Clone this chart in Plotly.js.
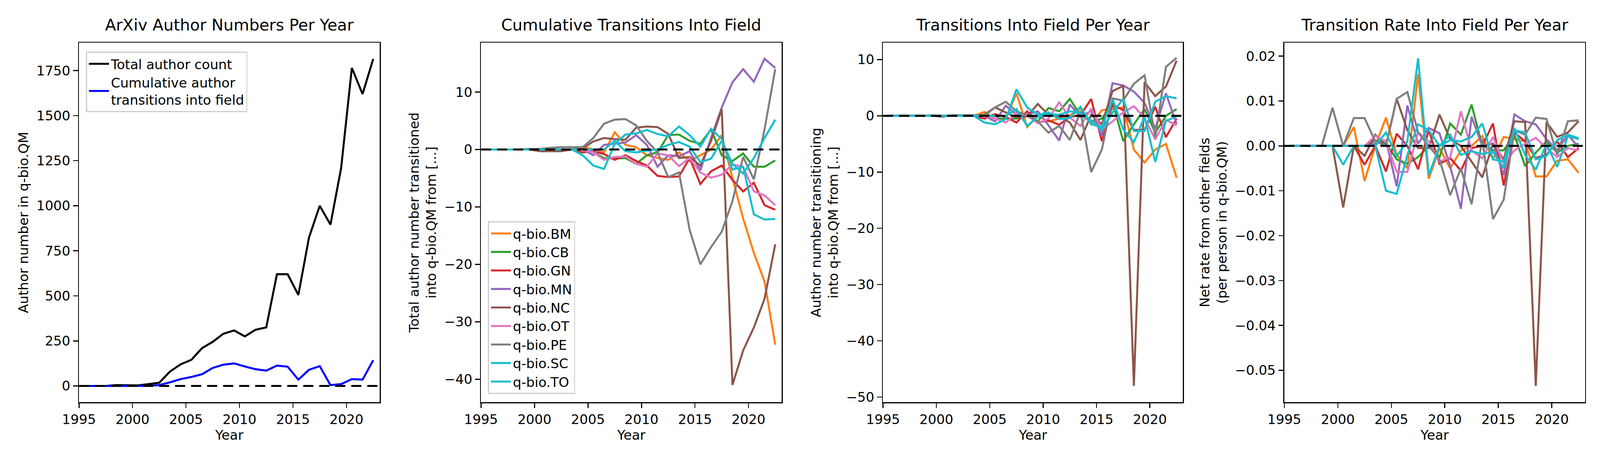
<!DOCTYPE html>
<html>
<head>
<meta charset="utf-8">
<script src="https://cdn.plot.ly/plotly-3.0.1.min.js"></script>
<style>html,body{margin:0;padding:0;overflow:hidden;background:#fff}</style>
</head>
<body>
<div id="plot"></div>
<script>
var years = [];
for (var y = 1995; y <= 2022; y++) years.push(y + 0.5);

var totalAuthors = [0,0,0,5,5,3,10,18, 80,120,145,210,245,290,308,275,312,325,620,620,505,825,1000,895,1210,1765,1620,1815];
var cumTransitions = [0,0,0,0,0,0,0,5, 20,38,50,65,100,118,125,108,93,85,113,107,35,90,110,5,10,38,35,143];

var fields = ['q-bio.BM','q-bio.CB','q-bio.GN','q-bio.MN','q-bio.NC','q-bio.OT','q-bio.PE','q-bio.SC','q-bio.TO'];
var colors = ['#ff7f0e','#2ca02c','#d62728','#9467bd','#8c564b','#e377c2','#7f7f7f','#17becf','#17becf'];

var z8 = [0,0,0,0,0,0,0,0];
// cumulative transitions, 1995.5 .. 2022.5
var cumBM = z8.concat([0,0.5,0,-0.5,3,0.8,0.4,-1,-1.5,-1.8,-0.5,-2,-1,0,2.5,-5,-12,-18,-23,-34]);
var cumCB = z8.concat([0,0,-0.5,-1.5,-1.6,-1.5,-2.5,-1,-0.5,2.5,2.6,1.5,1,3.5,-1,-2,-0.7,-3,-3,-1.9]);
var cumGN = z8.concat([0,-0.5,-0.3,-0.8,-1.8,-1,-2,-2.8,-4.6,-4.8,-4.7,-1.5,-6,-3.8,-2.8,-5.3,-7.3,-5.8,-9.7,-10.5]);
var cumMN = z8.concat([0,0,-1,0.8,1,1.2,2.5,0.8,-3,-1,-1.2,-0.3,-3.6,2,7.3,11.7,14,11.8,15.8,14.2]);
var cumNC = [0,0,0,0,0,-0.3,-0.3,-0.3, 0,0.2,1.4,2,1.8,1.7,3.8,4,3.9,2.7,-1.5,-1.3,-2.8,1.5,7,-41,-35,-31,-26,-16.5];
var cumOT = z8.concat([0,0,-0.5,-1.8,-1.3,-1.2,-2.5,-3,-0.7,-1,-2.9,-1.5,-4,-4.9,-4.4,-2.6,-3,-7.3,-8,-9.7]);
var cumPE = [0,0,0,0,0.1,0.1,0.3,0.4, 0.4,0.4,2,4.5,5.2,5.3,4.2,1.5,-0.5,-4.8,-4,-14,-20,-17,-14.3,-9,-1.3,-5.2,3.5,14];
var cumSC = z8.concat([0,-1,-2.8,-3.4,1,2.6,2.8,3.4,2.7,2.3,4,2.5,0.5,3.6,1.8,-3.5,-3,-11.3,-12.2,-12.1]);
var cumTO = z8.concat([0,0,0,0,1.5,-0.3,-0.5,-0.2,0,0.8,1.3,0.5,-2.2,-1.6,1.5,-2.5,-4.2,-1.5,2,5.2]);

// transitions per year, 1995.5 .. 2022.5
var yrBM = z8.concat([0,0.7,-0.5,-0.5,4,-2,0,-1,-0.5,0,1.3,-1.5,1,1.2,1.5,-6,-8.3,-6,-5,-11]);
var yrCB = z8.concat([0,0,-0.5,-0.5,-0.5,0,-1,1.4,0.8,3,0.1,-1,-0.5,2.5,-4.5,-1.5,1.2,-3,0,1.2]);
var yrGN = z8.concat([0,-0.5,0.3,-0.2,-1.2,0.8,-1.2,-0.8,-1.6,-0.2,0.1,3,-4.5,2,1,-2.5,-2.5,1.6,-3.8,-0.5]);
var yrMN = z8.concat([0,0,-1,1.8,0.2,0.2,0.8,-1.7,-4.4,2,-0.2,0.9,-3.5,5.8,5.4,4.3,2.3,-2.3,4,-1.5]);
var yrNC = z8.concat([0,0.2,1.5,0.6,-0.3,-0.1,2.1,0.2,-0.1,-1.2,-4.3,0.2,-1.5,4.4,5.3,-48,6,3.5,5.2,9.8]);
var yrOT = z8.concat([0,0,-0.5,-1.2,0.5,0.1,-1.3,-0.5,2.4,-0.3,-1.8,1.3,-2.4,-1,0.6,1.7,-0.4,-4.2,-0.7,-1.7]);
var yrPE = [0,0,0,0,0.1,-0.2,0.1,0.1, 0.1,0,1.5,2.5,0.8,0.1,-1,-3,-1.8,-4.3,0.8,-10,-6,3.1,2.7,5.7,7.2,-3.8,8.7,10.3];
var yrSC = z8.concat([0,-1.2,-1.5,-0.6,4.7,1.5,0.2,0.6,-0.6,-0.4,1.6,-1.5,-2,3,-2.4,-4.7,-0.2,-8.2,-0.9,-0.1]);
var yrTO = z8.concat([0,0,0,0,1.2,-1.8,-0.2,0.3,0.2,0.8,0.5,-0.8,-2.5,0.6,3,-2.7,-2.7,2.5,3.5,3.1]);

// net transition rate per person, 1995.5 .. 2022.5
var rateBM = [0,0,0,0,0,0,0.0042,-0.0078,0,0.0063,-0.002,-0.005,0.016,-0.0073,-0.0005,-0.005,-0.001,0,0.0022,-0.003,0.002,0.0015,0.001,-0.0068,-0.0068,-0.0033,-0.003,-0.006];
var rateCB = [0,0,0,0,0,0,0,0,0.0012,0.0005,-0.003,-0.004,-0.0025,0,-0.0025,0.005,0.0025,0.0092,0,-0.001,-0.001,0.0025,-0.0045,-0.0015,0.001,-0.0015,0,0.0005];
var rateGN = [0,0,0,0,0,0,0,-0.0042,0,-0.0057,0.0027,0,-0.0052,0.0035,-0.004,-0.0027,-0.0055,-0.0005,0,0.005,-0.0088,0.003,0.001,-0.0027,-0.002,0.001,-0.0025,-0.0005];
var rateMN = [0,0,0,0,0,0,0,0,0.0005,0.0012,-0.009,0.009,0.0005,0.004,0.0028,-0.0045,-0.014,0.0065,0,0.0005,-0.0065,0.007,0.0055,0.0048,0.0015,-0.001,0.0025,-0.0003];
var rateNC = [0,0,0,0,0,-0.0137,0,-0.0022,0.0025,0,0.0105,0.0035,-0.0005,-0.0005,0.007,0.0015,0,-0.0035,-0.007,0.0005,-0.003,0.0055,0.0053,-0.0535,0.0053,0.002,0.003,0.0055];
var rateOT = [0,0,0,0,0,0,0,0,0.0022,0.001,-0.0058,-0.0058,0.003,0.001,-0.0035,-0.0025,0.0077,-0.001,-0.0028,0.002,-0.004,-0.001,0.0005,0.0018,-0.0005,-0.0025,-0.0005,-0.001];
var ratePE = [0,0,0,0,0.0085,0,0.0062,0.0062,0.001,0,0.0105,0.012,0.003,0,-0.003,-0.011,-0.005,-0.013,0.0015,-0.0163,-0.012,0.0035,0.0025,0.0063,0.006,-0.002,0.0055,0.0057];
var rateSC = [0,0,0,0,0,-0.0042,0,0,0,0.003,-0.0023,0.001,0.0195,-0.0065,0,0.0025,-0.002,-0.0012,-0.0018,-0.0013,-0.005,0.004,-0.002,-0.0053,0.0005,-0.0047,0.0022,0.0015];
var rateTO = [0,0,0,0,0,0,0,0,0,-0.01,-0.0107,-0.002,0.0048,0.0035,0,0.0013,0.001,0.002,0.005,-0.003,-0.0035,0.0035,0.003,-0.003,-0.0022,0.0013,0.0025,0.0017];

var cumData = [cumBM,cumCB,cumGN,cumMN,cumNC,cumOT,cumPE,cumSC,cumTO];
var yrData = [yrBM,yrCB,yrGN,yrMN,yrNC,yrOT,yrPE,yrSC,yrTO];
var rateData = [rateBM,rateCB,rateGN,rateMN,rateNC,rateOT,ratePE,rateSC,rateTO];

// scale everything to the actual window
var W = window.innerWidth, H = window.innerHeight;
var s = W / 4800;
var LW = 6 * s;

var traces = [
  {x: years, y: totalAuthors, name: 'Total author count', mode: 'lines', line: {color: 'black', width: LW}, xaxis: 'x', yaxis: 'y', legend: 'legend'},
  {x: years, y: cumTransitions, name: 'Cumulative author<br>transitions into field', mode: 'lines', line: {color: 'blue', width: LW}, xaxis: 'x', yaxis: 'y', legend: 'legend'}
];
for (var i = 0; i < fields.length; i++) {
  traces.push({x: years, y: cumData[i], name: fields[i], mode: 'lines', line: {color: colors[i], width: LW}, xaxis: 'x2', yaxis: 'y2', legend: 'legend2'});
}
for (var i = 0; i < fields.length; i++) {
  traces.push({x: years, y: yrData[i], name: fields[i], mode: 'lines', line: {color: colors[i], width: LW}, xaxis: 'x3', yaxis: 'y3', showlegend: false});
}
for (var i = 0; i < fields.length; i++) {
  traces.push({x: years, y: rateData[i], name: fields[i], mode: 'lines', line: {color: colors[i], width: LW}, xaxis: 'x4', yaxis: 'y4', showlegend: false});
}

var F = {family: 'DejaVu Sans', size: 40 * s, color: 'black'};
var yd = [0.1425, 0.909];
function xax(d, anchor) {
  return {domain: d, anchor: anchor, range: [1995, 2023.1], tickvals: [1995,2000,2005,2010,2015,2020],
    ticks: 'outside', ticklen: 15 * s, tickwidth: 3 * s, tickcolor: 'black', showline: true, linecolor: 'black', linewidth: 3 * s,
    mirror: true, showgrid: false, zeroline: false, tickfont: F, title: {text: 'Year', font: F, standoff: 10 * s}};
}
function yax(anchor, range, dtick, title, fmt) {
  return {domain: yd, anchor: anchor, range: range, dtick: dtick, tickformat: fmt,
    ticks: 'outside', ticklen: 15 * s, tickwidth: 3 * s, tickcolor: 'black', showline: true, linecolor: 'black', linewidth: 3 * s,
    mirror: true, showgrid: false, zeroline: false, tickfont: F, title: {text: title, font: F, standoff: 12 * s}};
}
function zeroLine(xr, yr) {
  return {type: 'line', xref: xr + ' domain', yref: yr, x0: 0, x1: 1, y0: 0, y1: 0,
    line: {color: 'black', width: 6 * s, dash: Math.round(30 * s) + 'px,' + Math.round(18 * s) + 'px'}};
}
function ttl(text, xr) {
  return {text: text, xref: xr + ' domain', yref: 'paper', x: 0.5, y: 0.925, xanchor: 'center', yanchor: 'bottom',
    showarrow: false, font: {family: 'DejaVu Sans', size: 48 * s, color: 'black'}};
}
function legendBox(x, y, yanchor) {
  return {x: x, y: y, xref: 'paper', yref: 'paper', xanchor: 'left', yanchor: yanchor,
    bgcolor: 'rgba(255,255,255,0.8)', bordercolor: '#cccccc', borderwidth: 3 * s,
    font: {family: 'DejaVu Sans', size: 40 * s, color: 'black'}, itemwidth: 60 * s};
}

var layout = {
  width: W, height: H, margin: {l: 0, r: 0, t: 0, b: 0},
  paper_bgcolor: 'white', plot_bgcolor: 'white', font: F,
  xaxis: xax([237/4800, 1139/4800], 'y'),
  yaxis: yax('x', [-90, 1905], 250, 'Author number in q-bio.QM'),
  xaxis2: xax([1443/4800, 2345/4800], 'y2'),
  yaxis2: yax('x2', [-44, 18.6], 10, 'Total author number transitioned<br>into q-bio.QM from [...]'),
  xaxis3: xax([2649/4800, 3549/4800], 'y3'),
  yaxis3: yax('x3', [-50.9, 13], 10, 'Author number transitioning<br>into q-bio.QM from [...]'),
  xaxis4: xax([3853/4800, 4755/4800], 'y4'),
  yaxis4: yax('x4', [-0.0571, 0.023], 0.01, 'Net rate from other fields<br>(per person in q-bio.QM)', '.2f'),
  legend: legendBox(258/4800, 0.89, 'top'),
  legend2: legendBox(1464/4800, 0.16, 'bottom'),
  shapes: [zeroLine('x','y'), zeroLine('x2','y2'), zeroLine('x3','y3'), zeroLine('x4','y4')],
  annotations: [ttl('ArXiv Author Numbers Per Year','x'), ttl('Cumulative Transitions Into Field','x2'),
    ttl('Transitions Into Field Per Year','x3'), ttl('Transition Rate Into Field Per Year','x4')]
};

Plotly.newPlot('plot', traces, layout, {staticPlot: true});
</script>
</body>
</html>
